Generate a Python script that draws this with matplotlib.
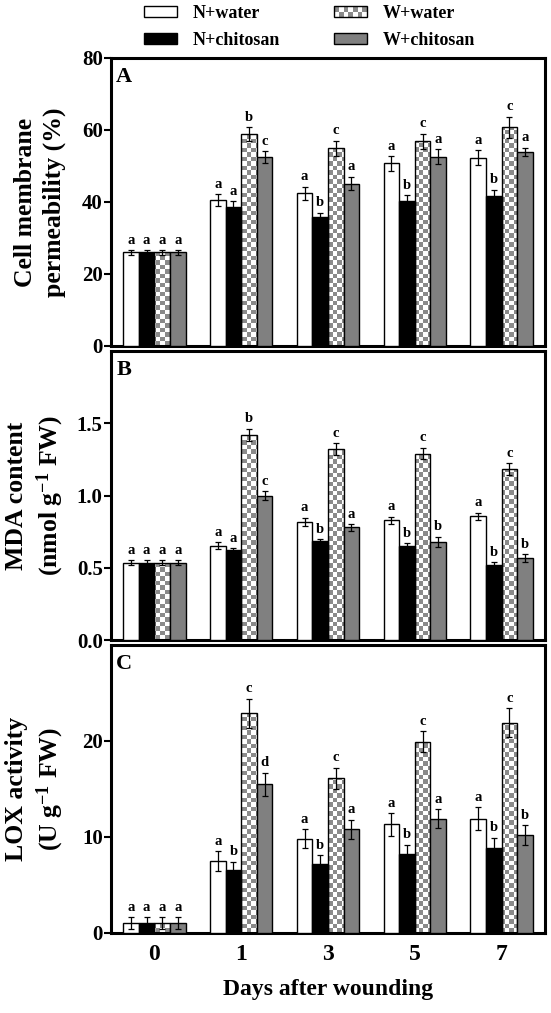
import numpy as np
import matplotlib
matplotlib.use('Agg')
import matplotlib.pyplot as plt
from matplotlib.patches import Rectangle
from matplotlib.colors import ListedColormap
from matplotlib.legend_handler import HandlerBase

plt.rcParams['font.family'] = ['Liberation Serif', 'DejaVu Serif']
plt.rcParams['font.weight'] = 'bold'
plt.rcParams['mathtext.fontset'] = 'custom'
plt.rcParams['mathtext.rm'] = 'Liberation Serif:bold'
plt.rcParams['mathtext.bf'] = 'Liberation Serif:bold'
plt.rcParams['mathtext.default'] = 'rm'

days = ['0', '1', '3', '5', '7']
treatments = ['N+water', 'N+chitosan', 'W+water', 'W+chitosan']

# A: cell membrane permeability (%)
perm_mean = [[26.0, 40.5, 42.4, 50.7, 52.3],
             [26.0, 38.7, 35.7, 40.3, 41.6],
             [26.0, 58.8, 54.9, 56.8, 60.7],
             [26.0, 52.5, 45.1, 52.6, 54.0]]
perm_err = [[0.6, 1.7, 1.8, 2.0, 2.1],
            [0.6, 1.5, 1.3, 1.6, 1.8],
            [0.6, 2.0, 2.1, 2.1, 3.0],
            [0.6, 1.6, 1.9, 2.0, 1.1]]
perm_sig = [['a', 'a', 'a', 'a', 'a'],
            ['a', 'a', 'b', 'b', 'b'],
            ['a', 'b', 'c', 'c', 'c'],
            ['a', 'c', 'a', 'a', 'a']]

# B: MDA content (nmol g-1 FW)
mda_mean = [[0.535, 0.652, 0.818, 0.829, 0.855],
            [0.535, 0.622, 0.684, 0.652, 0.518],
            [0.535, 1.419, 1.320, 1.290, 1.184],
            [0.535, 0.998, 0.779, 0.680, 0.565]]
mda_err = [[0.018, 0.023, 0.028, 0.023, 0.025],
           [0.018, 0.012, 0.012, 0.018, 0.020],
           [0.018, 0.044, 0.041, 0.039, 0.039],
           [0.018, 0.030, 0.023, 0.035, 0.028]]
mda_sig = [['a', 'a', 'a', 'a', 'a'],
           ['a', 'a', 'b', 'b', 'b'],
           ['a', 'b', 'c', 'c', 'c'],
           ['a', 'c', 'a', 'b', 'b']]

# C: LOX activity (U g-1 FW)
lox_mean = [[1.05, 7.5, 9.8, 11.3, 11.9],
            [1.05, 6.6, 7.2, 8.2, 8.9],
            [1.05, 22.9, 16.1, 19.9, 21.9],
            [1.05, 15.5, 10.8, 11.9, 10.2]]
lox_err = [[0.6, 1.0, 1.0, 1.2, 1.2],
           [0.6, 0.8, 0.9, 1.0, 1.0],
           [0.6, 1.5, 1.1, 1.1, 1.5],
           [0.6, 1.2, 1.0, 1.0, 1.0]]
lox_sig = [['a', 'a', 'a', 'a', 'a'],
           ['a', 'b', 'b', 'b', 'b'],
           ['a', 'c', 'c', 'c', 'c'],
           ['a', 'd', 'a', 'a', 'b']]

face = ['white', 'black', 'none', '#808080']
checker_gray = '#8a8a8a'
bw = 0.18


class CheckerHandler(HandlerBase):
    def create_artists(self, legend, orig_handle, xdescent, ydescent,
                       width, height, fontsize, trans):
        arts = [Rectangle((-xdescent, -ydescent), width, height,
                          facecolor='white', lw=0, transform=trans)]
        nc, nr = 7, 2
        w, h = width / nc, height / nr
        for i in range(nr):
            for j in range(nc):
                if (i + j) % 2:
                    arts.append(Rectangle((-xdescent + j * w, -ydescent + i * h), w, h,
                                          facecolor=checker_gray, lw=0, transform=trans))
        arts.append(Rectangle((-xdescent, -ydescent), width, height,
                              facecolor='none', edgecolor='black', lw=1, transform=trans))
        return arts


def panel(ax, mean, err, sig, ylim, yticks, ylabel, tag):
    x = np.arange(len(days))
    ax.set_xlim(-0.5, 4.5)
    ax.set_ylim(*ylim)
    board = np.indices((64, 96)).sum(axis=0) % 2
    for k in range(4):
        xs = x + (k - 1.5) * bw
        bars = ax.bar(xs, mean[k], bw, facecolor=face[k], edgecolor='black',
                      linewidth=1, zorder=3)
        if k == 2:
            for b in bars:
                im = ax.imshow(board, cmap=ListedColormap(['white', checker_gray]),
                               extent=(-0.5, 4.5, ylim[0], ylim[1]), aspect='auto',
                               interpolation='nearest', zorder=2)
                im.set_clip_path(b)
        ax.errorbar(xs, mean[k], yerr=err[k], fmt='none', ecolor='black',
                    elinewidth=0.9, capsize=2.5, capthick=0.9, zorder=4)
        for xi, m, e, s in zip(xs, mean[k], err[k], sig[k]):
            ax.annotate(s, (xi, m + e), xytext=(0, 2.5), textcoords='offset points',
                        ha='center', va='bottom', fontsize=10.5, fontweight='bold')
    ax.set_xlim(-0.5, 4.5)
    ax.set_ylim(*ylim)
    ax.set_yticks(yticks)
    ax.set_xticks(x)
    ax.tick_params(axis='y', direction='out', length=5, width=1.5, labelsize=15, pad=1)
    ax.tick_params(axis='x', length=0, labelsize=17, pad=8)
    for sp in ax.spines.values():
        sp.set_linewidth(2.2)
    ax.set_ylabel(ylabel, fontsize=18.5, fontweight='bold', linespacing=1.3)
    ax.yaxis.set_label_coords(-0.104, 0.5)
    ax.text(0.012, 0.97, tag, transform=ax.transAxes, ha='left', va='top',
            fontsize=16, fontweight='bold')


fig = plt.figure(figsize=(5.51, 10.13), dpi=100)
axA = fig.add_axes([0.2015, 0.6585, 0.7877, 0.2843])
axB = fig.add_axes([0.2015, 0.3682, 0.7877, 0.2853])
axC = fig.add_axes([0.2015, 0.0790, 0.7877, 0.2843])

panel(axA, perm_mean, perm_err, perm_sig, (0, 80), [0, 20, 40, 60, 80],
      'Cell membrane\npermeability (%)', 'A')
panel(axB, mda_mean, mda_err, mda_sig, (0, 2.0), [0.0, 0.5, 1.0, 1.5],
      'MDA content\n(nmol g$^{\\mathbf{-1}}$ FW)', 'B')
panel(axC, lox_mean, lox_err, lox_sig, (0, 30), [0, 10, 20],
      'LOX activity\n(U g$^{\\mathbf{-1}}$ FW)', 'C')

axA.set_xticklabels([])
axB.set_xticklabels([])
axB.set_yticklabels(['0.0', '0.5', '1.0', '1.5'])
axC.set_xticklabels(days)
axC.set_xlabel('Days after wounding', fontsize=17, fontweight='bold', labelpad=10)

handles = [Rectangle((0, 0), 1, 1, facecolor=f, edgecolor='black', lw=1) for f in face]
fig.legend(handles, treatments, handler_map={handles[2]: CheckerHandler()},
           ncol=2, loc='upper left', bbox_to_anchor=(0.232, 1.011), frameon=False,
           handlelength=1.8, handleheight=0.6, handletextpad=0.9,
           labelspacing=0.55, columnspacing=3.0,
           prop={'family': 'Liberation Serif', 'weight': 'bold', 'size': 13})

fig.savefig('out.png', dpi=100)
